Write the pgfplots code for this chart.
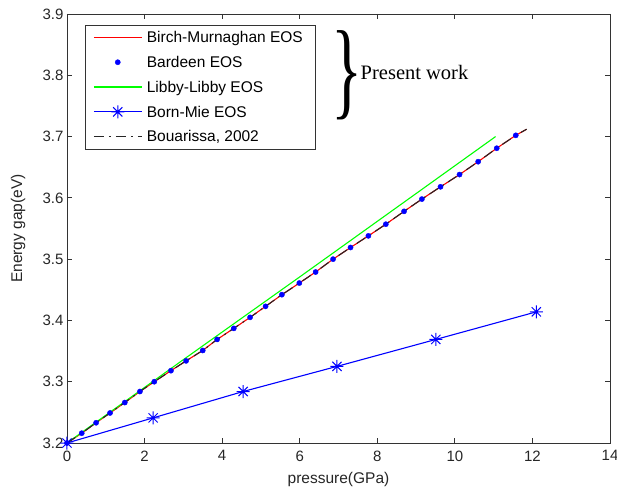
\documentclass[border=0pt]{standalone}
\usepackage{pgfplots}
\pgfplotsset{compat=1.18}
\usepackage{fontspec}
\setmainfont{Liberation Sans}
\newfontfamily\timesfont{Liberation Serif}
\pgfdeclareplotmark{mstar}{%
 \pgfpathmoveto{\pgfqpoint{-\pgfplotmarksize}{0pt}}\pgfpathlineto{\pgfqpoint{\pgfplotmarksize}{0pt}}%
 \pgfpathmoveto{\pgfqpoint{0pt}{-\pgfplotmarksize}}\pgfpathlineto{\pgfqpoint{0pt}{\pgfplotmarksize}}%
 \pgfpathmoveto{\pgfqpoint{-0.7071\pgfplotmarksize}{-0.7071\pgfplotmarksize}}\pgfpathlineto{\pgfqpoint{0.7071\pgfplotmarksize}{0.7071\pgfplotmarksize}}%
 \pgfpathmoveto{\pgfqpoint{-0.7071\pgfplotmarksize}{0.7071\pgfplotmarksize}}\pgfpathlineto{\pgfqpoint{0.7071\pgfplotmarksize}{-0.7071\pgfplotmarksize}}%
 \pgfusepathqstroke}

\pgfplotstableread{
x y
0 3.200
0.38 3.216
0.75 3.233
1.11 3.249
1.49 3.266
1.88 3.284
2.25 3.300
2.68 3.318
3.07 3.334
3.50 3.351
3.87 3.369
4.30 3.387
4.72 3.405
5.12 3.423
5.54 3.442
5.99 3.461
6.41 3.479
6.86 3.500
7.31 3.519
7.77 3.538
8.22 3.557
8.69 3.578
9.15 3.598
9.63 3.618
10.12 3.638
10.60 3.659
11.08 3.681
11.57 3.702
}\bardeen

\pgfplotstableread{
x y
0 3.200
0.38 3.216
0.75 3.233
1.11 3.249
1.49 3.266
1.88 3.284
2.25 3.300
2.68 3.318
3.07 3.334
3.50 3.351
3.87 3.369
4.30 3.387
4.72 3.405
5.12 3.423
5.54 3.442
5.99 3.461
6.41 3.479
6.86 3.500
7.31 3.519
7.77 3.538
8.22 3.557
8.69 3.578
9.15 3.598
9.63 3.618
10.12 3.638
10.60 3.659
11.08 3.681
11.57 3.702
11.85 3.712
}\birch

\pgfplotstableread{
x y
0 3.200
3 3.336
6 3.471
9 3.607
11.05 3.700
}\libby

\pgfplotstableread{
x y
0 3.200
2.22 3.241
4.54 3.284
6.96 3.325
9.51 3.369
12.10 3.414
}\bornmie

\begin{document}
\begin{tikzpicture}
\useasboundingbox (-67pt,-47pt) rectangle (550pt,443pt);
\begin{axis}[
  scale only axis,
  width=543pt, height=429pt,
  xmin=0, xmax=14, ymin=3.2, ymax=3.9,
  xtick={0,2,...,14},
  ytick={3.2,3.3,3.4,3.5,3.6,3.7,3.8,3.9},
  yticklabel style={/pgf/number format/fixed,/pgf/number format/fixed zerofill,/pgf/number format/precision=1},
  /pgf/number format/assume math mode=true,
  tick label style={font=\fontsize{15}{18}\selectfont, text=black!85},
  xticklabel style={yshift=-4pt},
  label style={font=\fontsize{15.5}{18}\selectfont, text=black!85},
  xlabel={pressure(GPa)},
  ylabel={Energy gap(eV)},
  xlabel style={at={(axis description cs:0.5,0)}, anchor=center, yshift=-36pt},
  ylabel style={at={(axis description cs:0,0.5)}, anchor=center, yshift=49pt},
  tick align=inside,
  major tick length=5pt,
  axis line style={line width=0.8pt, black!80},
  every tick/.style={line width=0.8pt, black!80},
  clip=false,
  legend cell align=left,
  legend style={name=leg, at={(0.0331,0.9744)}, anchor=north west, draw=none, fill=white,
    font=\fontsize{15.5}{18}\selectfont, inner xsep=8pt, inner ysep=4pt, row sep=8.3pt,
    nodes={inner xsep=4.5pt, inner ysep=1pt, text height=12.5pt, text depth=2pt}},
]
\addlegendimage{legend image code/.code={\draw[draw=red, line width=1.2pt] (0pt,0pt) -- (48pt,0pt);}}
\addlegendentry{Birch-Murnaghan EOS}
\addlegendimage{legend image code/.code={\path[draw=blue, fill=blue] plot[mark=*, mark size=2.6pt, mark options={draw=blue, fill=blue}] coordinates {(24pt,0pt)};}}
\addlegendentry{Bardeen EOS}
\addlegendimage{legend image code/.code={\draw[draw=green, line width=1.2pt] (0pt,0pt) -- (48pt,0pt);}}
\addlegendentry{Libby-Libby EOS}
\addlegendimage{legend image code/.code={\draw[draw=blue, line width=1.1pt] (0pt,0pt) -- (48pt,0pt); \path plot[mark=mstar, mark size=6.5pt, mark options={draw=blue, line width=1pt}] coordinates {(24pt,0pt)};}}
\addlegendentry{Born-Mie EOS}
\addlegendimage{legend image code/.code={\draw[draw=black!85, line width=1.1pt, dash pattern=on 10pt off 5pt on 2pt off 5pt] (0pt,0pt) -- (48pt,0pt);}}
\addlegendentry{Bouarissa, 2002}
\addplot[color=red, line width=1.1pt, forget plot] table {\birch};
\addplot[color=green, line width=1.1pt, forget plot] table {\libby};
\addplot[color=blue, line width=1.1pt, mark=mstar, mark size=6.5pt, mark options={line width=1pt}, forget plot] table {\bornmie};
\addplot[color=black!85, line width=1.1pt, dash pattern=on 10pt off 5pt on 2pt off 5pt, forget plot] table {\birch};
\addplot[color=blue, only marks, mark=*, mark size=2.6pt, forget plot] table {\bardeen};
\end{axis}
\draw[black!80, line width=0.7pt] (leg.south west) rectangle (leg.north east);
\node[font=\fontsize{108}{108}\selectfont\timesfont, xscale=0.6, inner sep=0pt, anchor=center] at (280pt,367.5pt) {\}};
\node[font=\fontsize{20.5}{24}\selectfont\timesfont, anchor=base west, inner sep=0pt] at (293.5pt,363.7pt) {Present work};
\end{tikzpicture}
\end{document}
